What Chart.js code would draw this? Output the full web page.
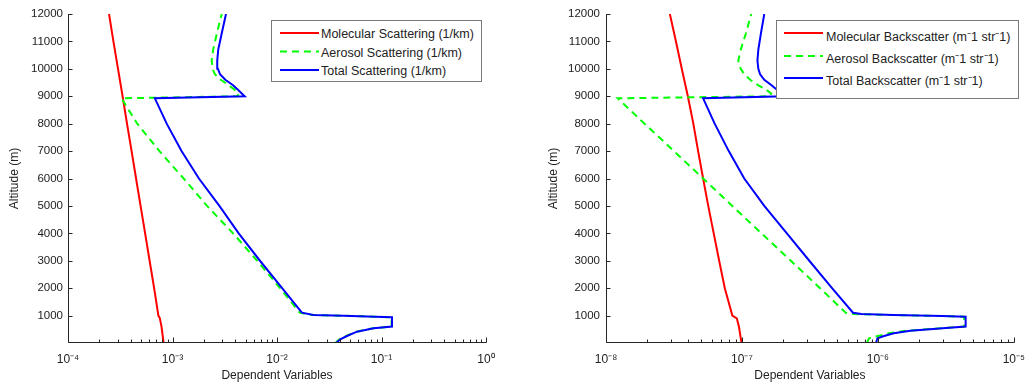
<!DOCTYPE html>
<html>
<head>
<meta charset="utf-8">
<script src="https://cdn.jsdelivr.net/npm/chart.js@4.4.0/dist/chart.umd.min.js"></script>
<style>
  html, body { margin: 0; padding: 0; background: #fff; }
  #wrap { position: relative; width: 1034px; height: 386px; overflow: hidden;
          font-family: "Liberation Sans", Arial, sans-serif; }
  canvas { position: absolute; top: 0; }
  .legend { position: absolute; background: #fff; border: 1px solid #7a7a7a; box-sizing: border-box; }
  .legend svg { position: absolute; left: 0; top: 0; }
  .legend .txt { position: absolute; white-space: nowrap; font-size: 12.5px; line-height: 16px; color: #222; }
</style>
</head>
<body>
<div id="wrap">
  <canvas id="leftChart" width="517" height="386" style="left:0"></canvas>
  <canvas id="rightChart" width="517" height="386" style="left:517px"></canvas>
</div>
<script>
// ---- data ----
// altitude (m) for the molecular profiles, both panels
const altMol = [0, 600, 900, 1000, 2000, 3000, 4000, 5000, 6000, 7000, 8000, 9000, 10000, 11000, 12000];
const molScattering = [8.22e-4, 7.85e-4, 7.57e-4, 7.33e-4, 6.67e-4, 6.04e-4, 5.47e-4, 4.95e-4,
  4.48e-4, 4.06e-4, 3.67e-4, 3.33e-4, 3.01e-4, 2.72e-4, 2.47e-4];
const molBackscatter = [9.93e-8, 9.5e-8, 9.16e-8, 8.5e-8, 7.48e-8, 6.8e-8, 6.2e-8, 5.65e-8,
  5.18e-8, 4.76e-8, 4.39e-8, 4.0e-8, 3.61e-8, 3.27e-8, 2.95e-8];

// left panel: aerosol / total scattering (1/km)
const altLeft = [0, 135, 255, 412, 536, 600, 937, 960, 996, 1021, 1105, 2000, 3000, 4000, 5000,
  6000, 7000, 8000, 8925, 9000, 9100, 9250, 9400, 9600, 9800, 10000, 10300, 10700, 11300, 12000];
const aerScattering = [0.0361, 0.0395, 0.0459, 0.0574, 0.0832, 0.125, 0.125, 0.086, 0.0426, 0.0215,
  0.0165, 0.0107, 0.00646, 0.0038, 0.00214, 0.00128, 0.00075, 0.00046, 0.000325, 0.0042,
  0.0043, 0.0039, 0.00345, 0.0029, 0.00255, 0.00242, 0.00237, 0.00245, 0.00266, 0.00296];
const totScattering = [0.0369, 0.0403, 0.0467, 0.0582, 0.084, 0.126, 0.126, 0.087, 0.0434, 0.0223,
  0.0173, 0.0112, 0.00687, 0.0043, 0.00281, 0.00179, 0.00122, 0.00088, 0.000678, 0.0049,
  0.0046, 0.0042, 0.0038, 0.0032, 0.00285, 0.00272, 0.00268, 0.00274, 0.00296, 0.00325];

// right panel: aerosol / total backscatter (m^-1 sr^-1)
const altRight = [0, 171, 255, 354, 449, 536, 600, 960, 985, 1021, 1058, 1105, 2000, 3000, 4000,
  5000, 6000, 7000, 8000, 8925, 9000, 9100, 9250, 9400, 9600, 9800, 10000, 10300, 10700, 11300, 12000];
const aerBackscatter = [8.3e-7, 8.6e-7, 1.0e-6, 1.2e-6, 1.63e-6, 2.9e-6, 4.3e-6, 4.3e-6, 2.9e-6,
  1.21e-6, 6.6e-7, 5.8e-7, 3.75e-7, 2.29e-7, 1.39e-7, 8.5e-8, 5.18e-8, 3.16e-8, 1.92e-8, 1.22e-8,
  1.6e-7, 1.64e-7, 1.5e-7, 1.32e-7, 1.15e-7, 1.04e-7, 9.8e-8, 9.4e-8, 9.8e-8, 1.07e-7, 1.17e-7];
const totBackscatter = [9.68e-7, 9.93e-7, 1.11e-6, 1.31e-6, 1.73e-6, 3.0e-6, 4.42e-6, 4.42e-6, 3.0e-6,
  1.31e-6, 7.55e-7, 6.56e-7, 4.6e-7, 3.13e-7, 2.14e-7, 1.46e-7, 1.04e-7, 8.0e-8, 6.3e-8, 5.18e-8,
  2.05e-7, 1.95e-7, 1.8e-7, 1.65e-7, 1.46e-7, 1.36e-7, 1.32e-7, 1.3e-7, 1.32e-7, 1.38e-7, 1.46e-7];

const labelsLeft = ['Molecular Scattering (1/km)', 'Aerosol Scattering (1/km)', 'Total Scattering (1/km)'];
const labelsRight = ['Molecular Backscatter (m\u207B1 str\u207B1)', 'Aerosol Backscatter (m\u207B1 str\u207B1)',
  'Total Backscatter (m\u207B1 str\u207B1)'];

const yTickValues = [1000, 2000, 3000, 4000, 5000, 6000, 7000, 8000, 9000, 10000, 11000, 12000];
const xTickValuesLeft = [1e-4, 1e-3, 1e-2, 1e-1, 1];
const xTickLabelsLeft = ['10\u207B\u2074', '10\u207B\u00B3', '10\u207B\u00B2', '10\u207B\u00B9', '10\u2070'];
const xTickValuesRight = [1e-8, 1e-7, 1e-6, 1e-5];
const xTickLabelsRight = ['10\u207B\u2078', '10\u207B\u2077', '10\u207B\u2076', '10\u207B\u2075'];

// ---- styling ----
const FONT = '"Liberation Sans", Arial, sans-serif';
const TEXT = '#222';
const RED = '#ff0000', GREEN = '#00ff00', BLUE = '#0000ff';
const DASH = [7, 5];

function pts(alts, vals) {
  return alts.map((h, i) => ({ x: vals[i], y: h }));
}

// MATLAB style axes: left + bottom line, ticks pointing inward, log minor ticks
const inwardAxes = {
  id: 'inwardAxes',
  afterDraw(chart) {
    const { ctx, chartArea: a, scales: { x, y } } = chart;
    const L = Math.round(a.left) + 0.5;
    const B = Math.round(a.bottom) - 0.5;
    ctx.save();
    ctx.strokeStyle = '#262626';
    ctx.lineWidth = 1;
    ctx.beginPath();
    ctx.moveTo(L, Math.round(a.top));
    ctx.lineTo(L, B);
    ctx.lineTo(Math.round(a.right) + 0.5, B);
    yTickValues.forEach(v => {
      const py = Math.round(y.getPixelForValue(v)) + 0.5;
      ctx.moveTo(L, py);
      ctx.lineTo(L + 4, py);
    });
    const majors = chart.options.plugins.inwardAxes.majors;
    majors.forEach((d, i) => {
      const px = Math.round(x.getPixelForValue(d)) + 0.5;
      ctx.moveTo(px, B);
      ctx.lineTo(px, B - 5);
      if (i === majors.length - 1) return;
      for (let m = 2; m <= 9; m++) {
        const mx = Math.round(x.getPixelForValue(m * d)) + 0.5;
        ctx.moveTo(mx, B);
        ctx.lineTo(mx, B - 3);
      }
    });
    ctx.stroke();
    ctx.restore();
  }
};

function makeChart(id, cfg) {
  return new Chart(document.getElementById(id), {
    type: 'line',
    data: {
      datasets: [
        { label: cfg.labels[2], data: pts(cfg.altAer, cfg.tot), borderColor: BLUE, borderWidth: 2, order: 0 },
        { label: cfg.labels[1], data: pts(cfg.altAer, cfg.aer), borderColor: GREEN, borderWidth: 2, borderDash: DASH, order: 1 },
        { label: cfg.labels[0], data: pts(altMol, cfg.mol), borderColor: RED, borderWidth: 2, order: 2 }
      ]
    },
    options: {
      responsive: false,
      animation: false,
      events: [],
      elements: { point: { radius: 0 }, line: { tension: 0, fill: false } },
      layout: { padding: { left: 0, top: 14, right: cfg.padRight, bottom: 0 } },
      plugins: {
        legend: { display: false },
        tooltip: { enabled: false },
        inwardAxes: { majors: cfg.xTicks }
      },
      scales: {
        x: {
          type: 'logarithmic',
          min: cfg.xTicks[0],
          max: cfg.xTicks[cfg.xTicks.length - 1],
          afterBuildTicks: s => { s.ticks = cfg.xTicks.map(v => ({ value: v })); },
          afterFit: s => { s.height = 43; },
          grid: { display: false, drawTicks: false },
          border: { display: false },
          ticks: {
            autoSkip: false, maxRotation: 0, padding: 9, color: TEXT,
            font: { family: FONT, size: 12 },
            callback: (v, i) => cfg.xLabels[i]
          },
          title: {
            display: true, text: 'Dependent Variables', color: TEXT,
            font: { family: FONT, size: 12 }, padding: { top: 0, bottom: 3 }
          }
        },
        y: {
          type: 'linear', min: 0, max: 12000,
          afterBuildTicks: s => { s.ticks = yTickValues.map(v => ({ value: v })); },
          afterFit: s => { s.width = cfg.yWidth; },
          grid: { display: false, drawTicks: false },
          border: { display: false },
          ticks: {
            padding: cfg.yPad, color: TEXT, font: { family: FONT, size: 11.5 },
            callback: v => String(v)
          },
          title: {
            display: true, text: 'Altitude (m)', color: TEXT,
            font: { family: FONT, size: 12 }, padding: { top: cfg.yTitlePad, bottom: 0 }
          }
        }
      }
    },
    plugins: [inwardAxes]
  });
}

makeChart('leftChart', {
  labels: labelsLeft, altAer: altLeft, aer: aerScattering, tot: totScattering, mol: molScattering,
  xTicks: xTickValuesLeft, xLabels: xTickLabelsLeft,
  yWidth: 68, yPad: 5, yTitlePad: 7, padRight: 31
});
makeChart('rightChart', {
  labels: labelsRight, altAer: altRight, aer: aerBackscatter, tot: totBackscatter, mol: molBackscatter,
  xTicks: xTickValuesRight, xLabels: xTickLabelsRight,
  yWidth: 89, yPad: 6, yTitlePad: 29, padRight: 11
});

// ---- legends (boxes drawn over the plot, like MATLAB) ----
function buildLegend(box, labels, rows) {
  const styles = [{ c: RED, dash: '' }, { c: GREEN, dash: DASH.join(' ') }, { c: BLUE, dash: '' }];
  const el = document.createElement('div');
  el.className = 'legend';
  Object.assign(el.style, { left: box.left + 'px', top: box.top + 'px', width: box.width + 'px', height: box.height + 'px' });
  let svg = '<svg width="' + box.width + '" height="' + box.height + '">';
  rows.forEach((r, i) => {
    svg += '<line x1="' + box.x1 + '" x2="' + box.x2 + '" y1="' + r.line + '" y2="' + r.line +
      '" stroke="' + styles[i].c + '" stroke-width="2"' +
      (styles[i].dash ? ' stroke-dasharray="' + styles[i].dash + '"' : '') + '/>';
  });
  svg += '</svg>';
  el.innerHTML = svg;
  rows.forEach((r, i) => {
    const t = document.createElement('div');
    t.className = 'txt';
    t.textContent = labels[i];
    t.style.left = box.textX + 'px';
    t.style.top = (r.text - 8) + 'px';
    el.appendChild(t);
  });
  document.getElementById('wrap').appendChild(el);
}

buildLegend({ left: 271, top: 20, width: 211, height: 62, x1: 8, x2: 47, textX: 49 }, labelsLeft,
  [{ line: 12, text: 13 }, { line: 30.5, text: 31.5 }, { line: 49, text: 50 }]);
buildLegend({ left: 776, top: 20, width: 243, height: 79, x1: 7, x2: 46, textX: 49 }, labelsRight,
  [{ line: 12, text: 15.5 }, { line: 35, text: 38 }, { line: 57, text: 60 }]);
</script>
</body>
</html>
